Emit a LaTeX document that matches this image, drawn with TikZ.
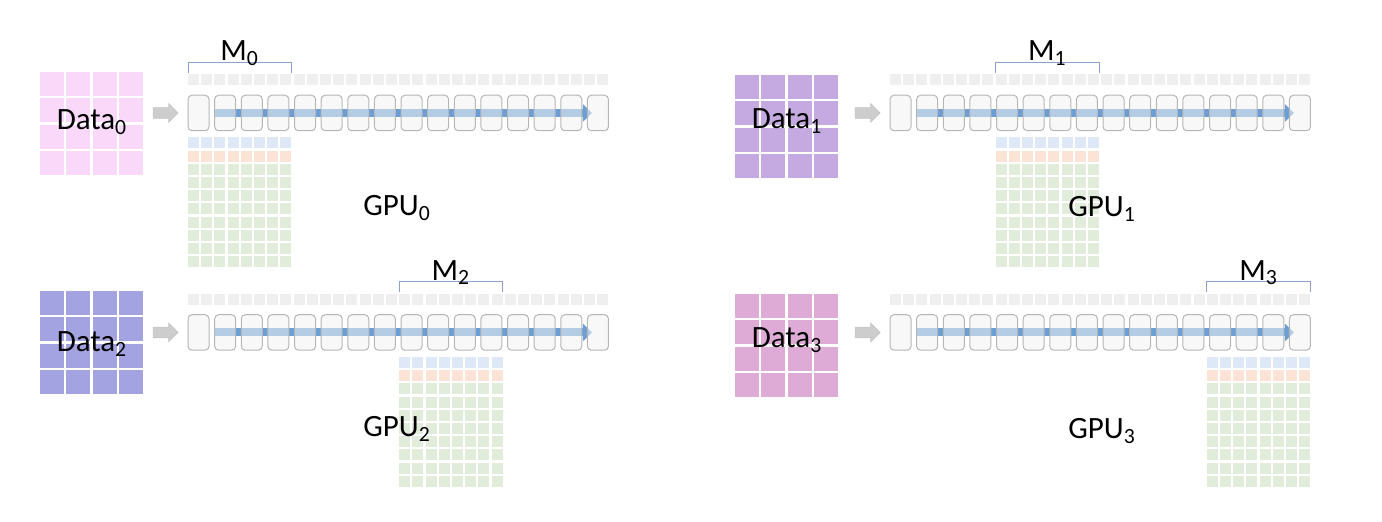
\documentclass[tikz,border=0pt]{standalone}
\usepackage{fontspec}
\setmainfont{Carlito}
\usepackage{xcolor}
\usetikzlibrary{positioning,arrows.meta,calc,shapes.arrows,backgrounds}
\definecolor{dataA}{RGB}{250,216,250}
\definecolor{dataB}{RGB}{196,170,224}
\definecolor{dataC}{RGB}{163,163,226}
\definecolor{dataD}{RGB}{222,170,214}
\definecolor{slotgray}{RGB}{239,239,239}
\definecolor{boxfill}{RGB}{242,242,242}
\definecolor{boxline}{RGB}{182,182,182}
\definecolor{flowblue}{RGB}{108,158,214}
\definecolor{rowblue}{RGB}{222,232,246}
\definecolor{roworange}{RGB}{251,228,213}
\definecolor{rowgreen}{RGB}{226,236,218}
\definecolor{bracketblue}{RGB}{140,162,205}
\definecolor{feedgray}{RGB}{205,205,205}
\tikzset{
    layer/.style={
        rectangle,
        draw=boxline,
        fill=boxfill,
        fill opacity=0.55,
        line width=0.5pt,
        rounded corners=2pt,
        minimum width=10.5pt,
        minimum height=17.75pt,
        inner sep=0pt
    },
    slot/.style={rectangle,fill=slotgray,minimum size=5.5pt,inner sep=0pt},
    cell/.style={rectangle,minimum size=5.5pt,inner sep=0pt},
    datacell/.style={rectangle,minimum size=12pt,inner sep=0pt},
    feed/.style={
        single arrow,
        fill=feedgray,
        draw=gray!45,
        line width=0.3pt,
        minimum height=12.5pt,
        inner xsep=0pt,
        inner ysep=2.5pt,
        single arrow head extend=2pt
    },
    flow/.style={line width=4pt,flowblue,-{Triangle[length=4.5pt,width=8.5pt]}},
    brace/.style={draw=bracketblue,line width=0.5pt},
    lbl/.style={font=\fontsize{15.5}{18}\selectfont,inner sep=0pt,anchor=base}
}

% #1 name, #2 left, #3 top, #4 colour
\newcommand{\datagrid}[4]{%
  \foreach \r in {0,...,3}
    \foreach \c in {0,...,3}
      \node[datacell,fill=#4] (#1-\r-\c) at ({#2+12+\c*26.33},{#3+12+\r*26.33}) {};
}

% #1 name, #2 left of first layer, #3 centre of layers, #4 shard
\newcommand{\gpupanel}[4]{%
  \foreach \i in {0,...,15}
    \node[layer] (#1-\i) at ({#2+10.5+\i*26.63},#3) {};
  \node[feed,left=4.5pt of #1-0] (#1-feed) {};
  \coordinate (#1-tip) at ({#2+4.5+15*26.63},#3);
  \begin{scope}[on background layer]
    \draw[flow] (#1-1.west) -- (#1-tip);
  \end{scope}
  \foreach \j in {0,...,31}
    \node[slot] (#1-s\j) at ({#2+5.5+\j*13.2},{#3-33}) {};
  \foreach \r/\rowcol in {0/rowblue,1/roworange,2/rowgreen,3/rowgreen,4/rowgreen,
                          5/rowgreen,6/rowgreen,7/rowgreen,8/rowgreen,9/rowgreen}
    \foreach \c in {0,...,7}
      \node[cell,fill=\rowcol] (#1-g\r-\c) at ({#2+5.5+(8*#4+\c)*13.2},{#3+30+\r*13.2}) {};
  \coordinate (#1-bl) at ({#2+8*#4*13.2},{#3-40});
  \coordinate (#1-br) at ({#2+(8*#4+7)*13.2+11},{#3-40});
  \draw[brace] (#1-bl) -- ++(0,-10.5) -| (#1-br);
  \node[lbl] (#1-m) at ($(#1-bl)!0.5!(#1-br)+(0,-12)$) {M\textsubscript{#4}};
}

\begin{document}
\begin{tikzpicture}[x=0.5pt,y=-0.5pt]
\useasboundingbox (0,0) rectangle (1382,522);

\datagrid{d0}{40}{72}{dataA}
\datagrid{d1}{735}{75}{dataB}
\datagrid{d2}{40}{291}{dataC}
\datagrid{d3}{735}{294}{dataD}

\gpupanel{p0}{188}{113}{0}
\gpupanel{p1}{890}{113}{1}
\gpupanel{p2}{188}{332.5}{2}
\gpupanel{p3}{890}{332.5}{3}

\node[lbl] (data0) at (92,130) {Data\textsubscript{0}};
\node[lbl] (data1) at (787,129) {Data\textsubscript{1}};
\node[lbl] (data2) at (92,352) {Data\textsubscript{2}};
\node[lbl] (data3) at (787,348) {Data\textsubscript{3}};

\node[lbl,anchor=base west] (gpu0) at (363,216) {GPU\textsubscript{0}};
\node[lbl,anchor=base west] (gpu1) at (1068,217) {GPU\textsubscript{1}};
\node[lbl,anchor=base west] (gpu2) at (363,437) {GPU\textsubscript{2}};
\node[lbl,anchor=base west] (gpu3) at (1068,439) {GPU\textsubscript{3}};
\end{tikzpicture}
\end{document}
